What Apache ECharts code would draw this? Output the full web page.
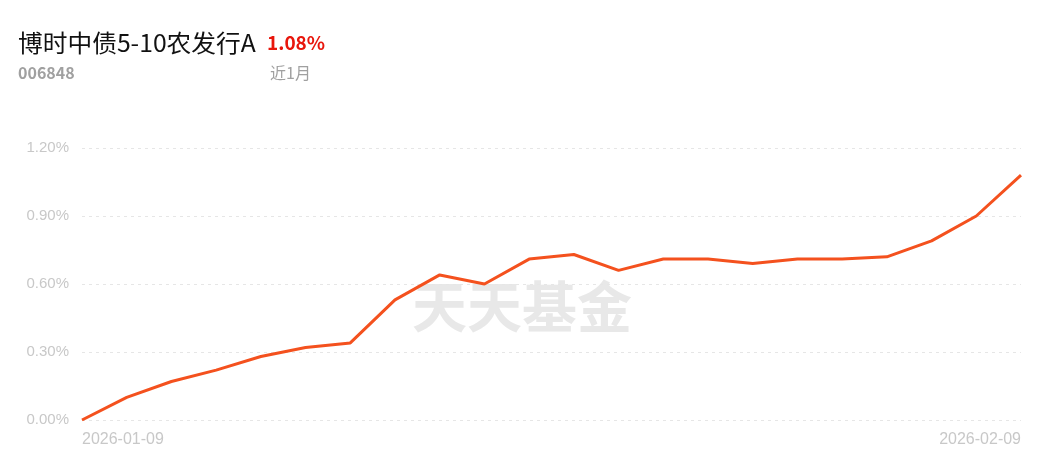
<!DOCTYPE html>
<html><head><meta charset="utf-8">
<script src="https://cdn.jsdelivr.net/npm/echarts@6/dist/echarts.min.js"></script>
<style>html,body{margin:0;padding:0;background:#fff}#c{width:1046px;height:462px}</style>
</head><body><div id="c"></div>
<script>
const dates = ['2026-01-09','2026-01-12','2026-01-13','2026-01-14','2026-01-15','2026-01-16','2026-01-19','2026-01-20','2026-01-21','2026-01-22','2026-01-23','2026-01-26','2026-01-27','2026-01-28','2026-01-29','2026-01-30','2026-02-02','2026-02-03','2026-02-04','2026-02-05','2026-02-06','2026-02-09'];
const returns = [0.00,0.10,0.17,0.22,0.28,0.32,0.34,0.53,0.64,0.60,0.71,0.73,0.66,0.71,0.71,0.69,0.71,0.71,0.72,0.79,0.90,1.08];
const yTicks = [0, 0.3, 0.6, 0.9, 1.2];
const fundName = '博时中债5-10农发行A';
const fundCode = '006848';
const periodReturn = '1.08%';
const periodLabel = '近1月';
const watermark = '天天基金';

const chart = echarts.init(document.getElementById('c'));
const CJK = '"Noto Sans CJK SC","Noto Sans",sans-serif';
chart.setOption({
  animation: false,
  grid: {left: 82, right: 25, top: 148, bottom: 42},
  graphic: [
    {type:'text', left: 18, top: 31, style:{text: fundName, font: '24px '+CJK, fill:'#111'}, scaleX: 1.03},
    {type:'text', left: 267, top: 33, style:{text: periodReturn, font: 'bold 19px '+CJK, fill:'#e8160c'}},
    {type:'text', left: 18, top: 65, style:{text: fundCode, font: 'bold 16px '+CJK, fill:'#a0a0a0'}},
    {type:'text', left: 270, top: 65, style:{text: periodLabel, font: '16px '+CJK, fill:'#a0a0a0'}},
    {type:'text', left: 412, top: 279, z: -1, style:{text: watermark, font: 'bold 55px '+CJK, fill:'#e8e8e8'}}
  ],
  xAxis: {
    type: 'category', data: dates, boundaryGap: false,
    axisLine: {show:false}, axisTick: {show:false},
    axisLabel: {
      color:'#c8c8c8', fontSize: 16, margin: 12,
      interval: (i) => i === 0 || i === dates.length - 1,
      alignMinLabel: 'left', alignMaxLabel: 'right'
    }
  },
  yAxis: {
    type: 'value', min: yTicks[0], max: yTicks[yTicks.length-1], interval: 0.3,
    axisLine:{show:false}, axisTick:{show:false},
    axisLabel: {color:'#c8c8c8', fontSize: 15, margin: 13, formatter: v => v.toFixed(2)+'%'},
    splitLine: {lineStyle:{color:'#e6e6e6', type:[3,4], width:1}}
  },
  series: [{
    type:'line', data: returns, symbol:'none',
    lineStyle:{color:'#f4511e', width:3}
  }]
});
</script></body></html>
